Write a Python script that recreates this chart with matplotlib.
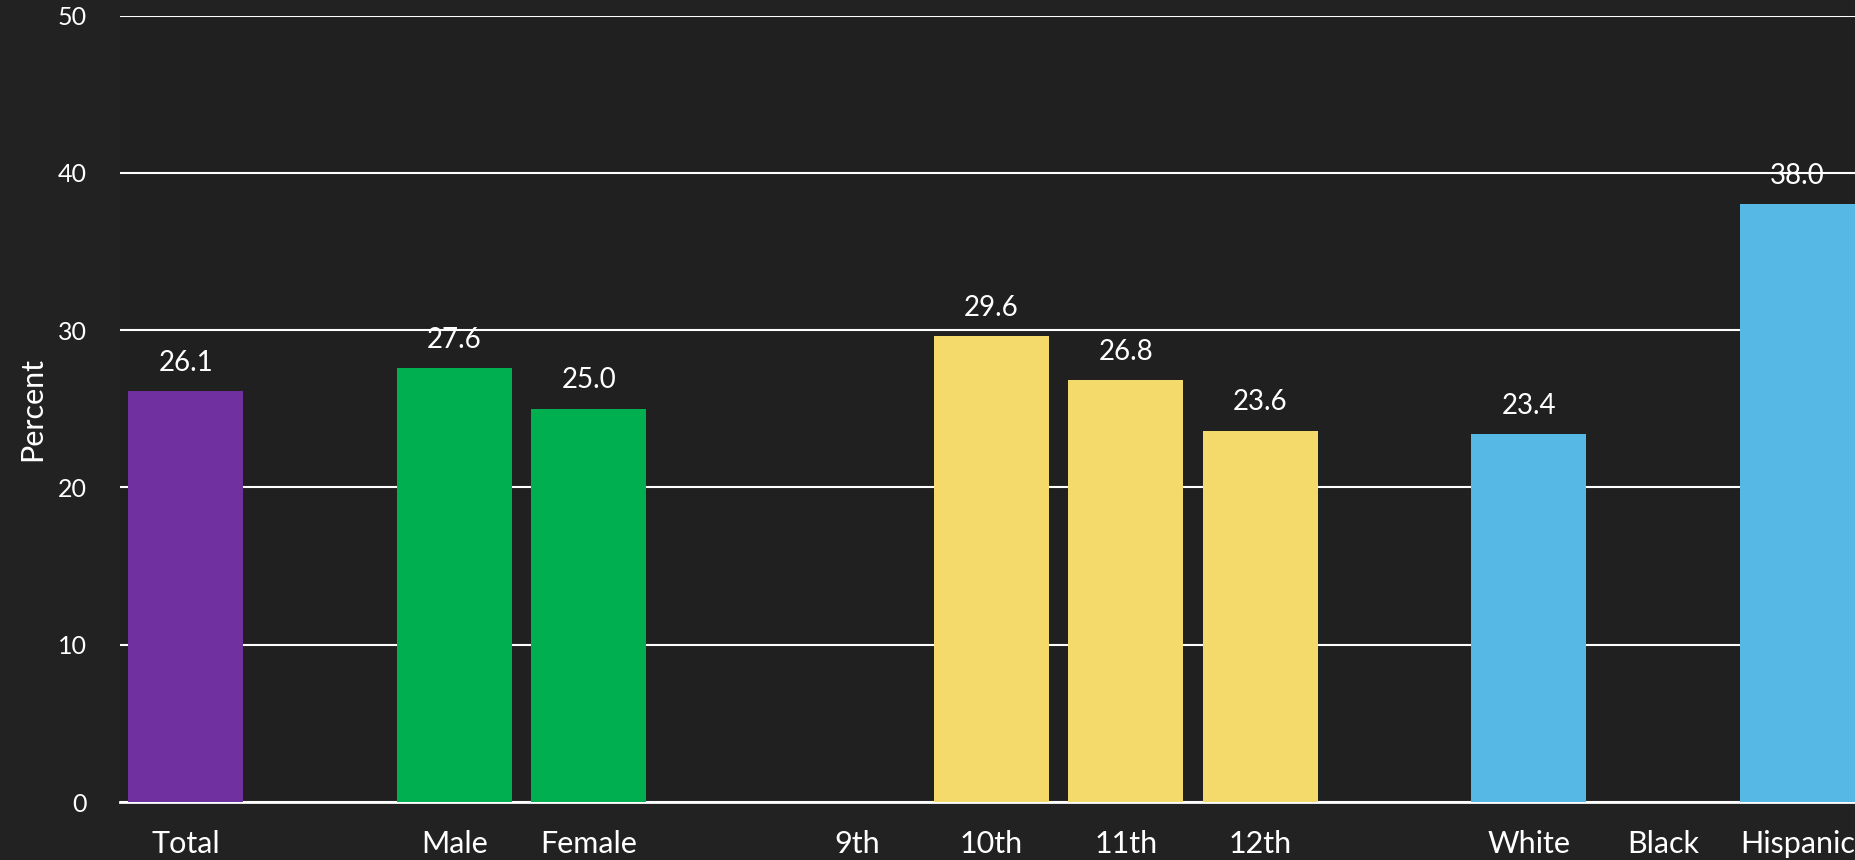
import matplotlib
matplotlib.use("Agg")
import matplotlib.pyplot as plt
import numpy as np

categories = ["Total", "", "Male", "Female", "", "9th", "10th", "11th", "12th", "", "White", "Black", "Hispanic"]
values = [26.1, None, 27.6, 25.0, None, None, 29.6, 26.8, 23.6, None, 23.4, None, 38.0]
colors = ["#7030A0", None, "#00B050", "#00B050", None, "#F4D96B", "#F4D96B", "#F4D96B", "#F4D96B", None, "#56B9E5", "#56B9E5", "#56B9E5"]
yticks = [0, 10, 20, 30, 40, 50]

plt.rcParams['font.family'] = ['Lato', 'DejaVu Sans']

fig = plt.figure(figsize=(18.55, 8.6), dpi=100)
fig.patch.set_facecolor("#222222")
ax = fig.add_axes([120/1855, 1-802/860, 1-120/1855, (802-15.5)/860])
ax.set_facecolor("#202020")

x = np.arange(len(categories))
for xi, v, c in zip(x, values, colors):
    if v is None:
        continue
    ax.bar(xi, v, width=0.855, color=c, zorder=3)
    ax.annotate(f"{v:.1f}", (xi, v), xytext=(0, 11), textcoords="offset points",
                ha="center", va="bottom", color="white", fontsize=20)

ax.set_xlim(-0.49, 12.43)
ax.set_ylim(0, 50)
ax.set_yticks(yticks)
ax.set_yticklabels([str(t) for t in yticks], color="white", fontsize=18)
ax.set_xticks(x)
ax.set_xticklabels(categories, color="white", fontsize=22)
ax.tick_params(axis="x", length=0, pad=20)
ax.tick_params(axis="y", length=0, pad=24)
ax.yaxis.grid(True, color="white", linewidth=1.5, zorder=0)
ax.set_axisbelow(True)
for s in ["top", "right", "left"]:
    ax.spines[s].set_visible(False)
ax.spines["bottom"].set_color("white")
ax.spines["bottom"].set_linewidth(2)
ax.spines["bottom"].set_zorder(2)
ax.set_ylabel("Percent", color="white", fontsize=22, labelpad=8)

fig.savefig("out.png", dpi=100, facecolor=fig.get_facecolor())
